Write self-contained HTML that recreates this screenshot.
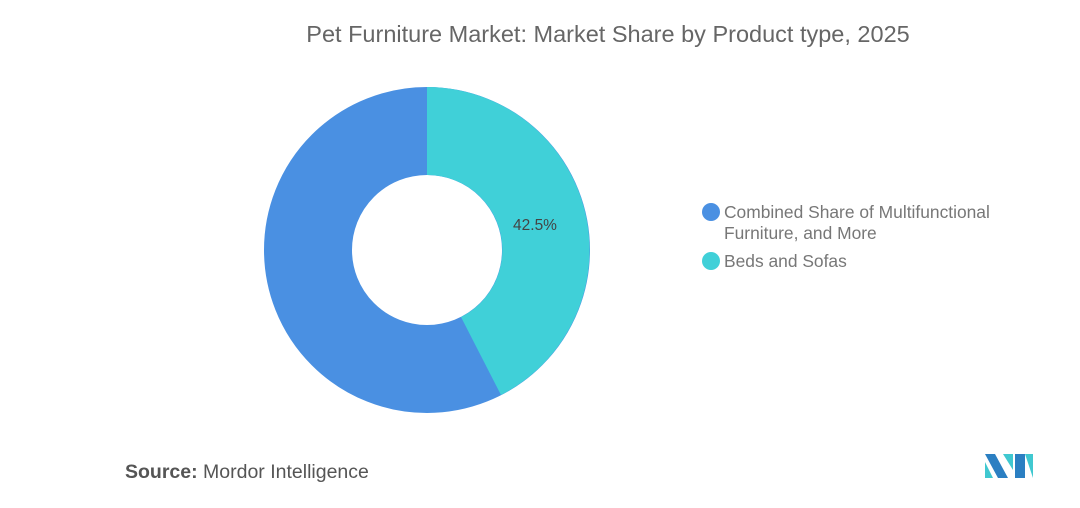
<!DOCTYPE html>
<html><head><meta charset="utf-8"><style>
body{margin:0;width:1080px;height:508px;background:#fff;overflow:hidden;font-family:"Liberation Sans",sans-serif}
</style></head><body>
<svg width="1080" height="508" xmlns="http://www.w3.org/2000/svg" style="position:absolute;left:0;top:0">
<text x="608" y="42" text-anchor="middle" font-size="23.5" fill="#666" font-family="Liberation Sans,sans-serif">Pet Furniture Market: Market Share by Product type, 2025</text>
<circle cx="427" cy="250" r="119" fill="none" stroke="#4a90e2" stroke-width="88"/>
<path d="M427,87 A163,163 0 0 1 501,395 L461,317 A75,75 0 0 0 427,175 Z" fill="#40d0d8"/>
<text x="535" y="230" text-anchor="middle" font-size="15.5" fill="#444">42.5%</text>
<circle cx="711" cy="212" r="9" fill="#4a90e2"/>
<text x="724" y="218" font-size="17.4" fill="#777">Combined Share of Multifunctional</text>
<text x="724" y="239" font-size="17.4" fill="#777">Furniture, and More</text>
<circle cx="711" cy="261" r="9" fill="#40d0d8"/>
<text x="724" y="267" font-size="17.4" fill="#777">Beds and Sofas</text>
<text x="125" y="478" font-size="19.5" fill="#555"><tspan font-weight="bold">Source:</tspan>  Mordor Intelligence</text>
<polygon points="985,454 995,454 1008,478 998,478" fill="#2b7fc2"/>
<polygon points="985,462 993,478 985,478" fill="#40c8d0"/>
<polygon points="1003,454 1013,454 1013,470" fill="#40c8d0"/>
<polygon points="1015,454 1025,454 1025,478 1015,478" fill="#2b7fc2"/>
<polygon points="1025,454 1033,454 1033,478" fill="#40c8d0"/>
</svg>
</body></html>
